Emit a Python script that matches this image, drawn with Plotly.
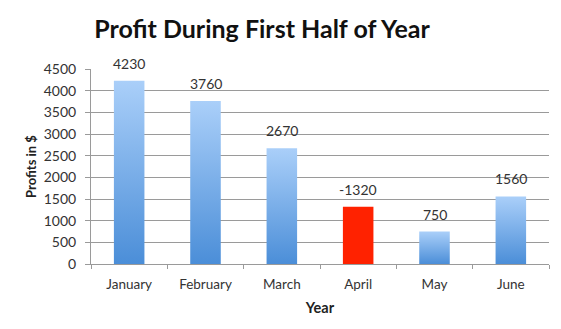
import plotly.graph_objects as go

# Monthly profit figures
months = ["January", "February", "March", "April", "May", "June"]
profits = [4230, 3760, 2670, -1320, 750, 1560]
y_ticks = [0, 500, 1000, 1500, 2000, 2500, 3000, 3500, 4000, 4500]

BAR_W = 0.4
LIGHT = "#aacff9"
DARK = "#4b8ed8"
LOSS = "#ff2200"
FONT = "Lato"

heights = [abs(v) for v in profits]

fig = go.Figure()

# Base bar trace: loss months in solid red, gains drawn with gradients below
fig.add_trace(go.Bar(
    x=months, y=heights, width=BAR_W,
    marker=dict(color=[LOSS if v < 0 else "rgba(0,0,0,0)" for v in profits],
                line=dict(width=0)),
    hoverinfo="skip", showlegend=False,
))

# Gradient-filled bars for positive months on an overlaid numeric axis
for i, v in enumerate(profits):
    if v < 0:
        continue
    x0, x1 = i - BAR_W / 2, i + BAR_W / 2
    fig.add_trace(go.Scatter(
        x=[x0, x1, x1, x0, x0], y=[0, 0, v, v, 0],
        xaxis="x2", mode="lines", fill="toself",
        line=dict(width=0, color="rgba(0,0,0,0)"),
        fillgradient=dict(type="vertical", start=0, stop=v,
                          colorscale=[[0, DARK], [1, LIGHT]]),
        hoverinfo="skip", showlegend=False,
    ))

# Value labels above each bar
for m, v, h in zip(months, profits, heights):
    fig.add_annotation(x=m, y=h, text=str(v), showarrow=False,
                       yanchor="bottom", yshift=7,
                       font=dict(family=FONT, size=14, color="#333333"))

fig.update_layout(
    width=561, height=329,
    margin=dict(l=91, r=12, t=69, b=65),
    paper_bgcolor="white", plot_bgcolor="white",
    title=dict(text="<b>Profit During First Half of Year</b>",
               x=0.467, xanchor="center", y=0.912, yanchor="middle",
               font=dict(family=FONT, size=25, color="#111111")),
    xaxis=dict(
        type="category", range=[-0.5, 5.5],
        showline=True, linecolor="#9a9a9a", linewidth=1,
        ticks="outside", ticklen=4, tickcolor="#9a9a9a", tickson="boundaries",
        ticklabelstandoff=8,
        showgrid=False,
        tickfont=dict(family=FONT, size=13.5, color="#333333"),
        title=dict(text="<b>Year</b>", standoff=11,
                   font=dict(family=FONT, size=14.5, color="#222222")),
    ),
    xaxis2=dict(overlaying="x", range=[-0.5, 5.5], visible=False),
    yaxis=dict(
        range=[0, 4500], tickvals=y_ticks,
        showline=True, linecolor="#9a9a9a", linewidth=1,
        ticks="outside", ticklen=5, tickcolor="#9a9a9a",
        ticklabelstandoff=6,
        showgrid=True, gridcolor="#9a9a9a", gridwidth=1,
        zeroline=False,
        tickfont=dict(family=FONT, size=14, color="#333333"),
        title=dict(text="<b>Profits in $</b>", standoff=4,
                   font=dict(family=FONT, size=13, color="#222222")),
    ),
)

fig.write_html("out.html")
